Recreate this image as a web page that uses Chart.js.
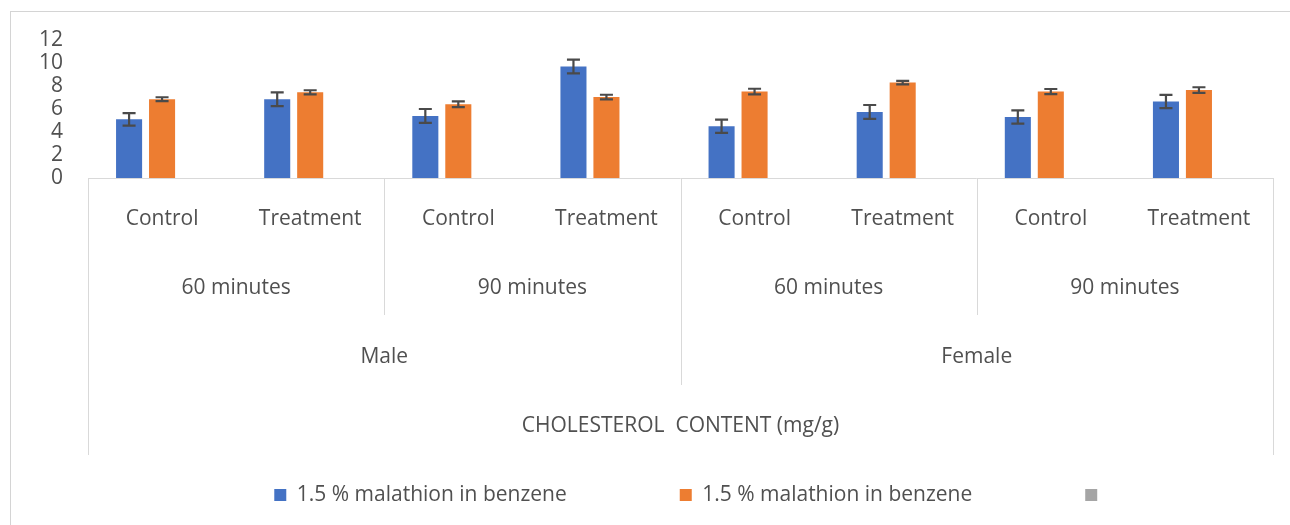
<!DOCTYPE html>
<html>
<head>
<meta charset="utf-8">
<title>Cholesterol content</title>
<script src="https://cdn.jsdelivr.net/npm/chart.js@4.4.1/dist/chart.umd.min.js"></script>
<style>
  html, body { margin: 0; padding: 0; background: #fff; }
  #wrap { position: relative; width: 1290px; height: 525px; overflow: hidden; }
  #frame { position: absolute; left: 10px; top: 11px; right: -2px; bottom: -2px;
           border-left: 1px solid #d4d4d4; border-top: 1px solid #d4d4d4; }
  #chart { position: absolute; left: 0; top: 0; }
</style>
</head>
<body>
<div id="wrap">
  <div id="frame"></div>
  <canvas id="chart" width="1290" height="525"></canvas>
</div>
<script>
  // ── data ─────────────────────────────────────────────
  const treatments = ["Control", "Treatment", "Control", "Treatment",
                      "Control", "Treatment", "Control", "Treatment"];
  const durations = ["60 minutes", "90 minutes", "60 minutes", "90 minutes"];
  const sexes = ["Male", "Female"];
  const axisTitle = "CHOLESTEROL  CONTENT (mg/g)";

  const seriesNames = ["1.5 % malathion in benzene", "1.5 % malathion in benzene", ""];

  const blueValues   = [5.1, 6.85, 5.4, 9.7, 4.5, 5.75, 5.3, 6.65];
  const blueErrors   = [0.55, 0.6, 0.6, 0.6, 0.58, 0.6, 0.58, 0.58];
  const orangeValues = [6.85, 7.45, 6.42, 7.04, 7.52, 8.3, 7.52, 7.65];
  const orangeErrors = [0.17, 0.18, 0.25, 0.2, 0.24, 0.15, 0.22, 0.24];
  const emptyValues  = [null, null, null, null, null, null, null, null];

  const yTicks = [0, 2, 4, 6, 8, 10, 12];

  const TEXT = "#505050";
  const LINE = "#d9d9d9";
  Chart.defaults.font.family = "'Open Sans', sans-serif";
  Chart.defaults.font.size = 21;
  Chart.defaults.color = TEXT;

  // ── error bars (no built-in in Chart.js) ─────────────
  const errorBars = {
    id: "errorBars",
    afterDatasetsDraw(chart) {
      const ctx = chart.ctx;
      const y = chart.scales.y;
      chart.data.datasets.forEach(function (ds, di) {
        if (!ds.errors) return;
        chart.getDatasetMeta(di).data.forEach(function (bar, i) {
          const v = ds.data[i];
          if (v == null) return;
          const top = y.getPixelForValue(v + ds.errors[i]);
          const bot = y.getPixelForValue(v - ds.errors[i]);
          ctx.save();
          ctx.strokeStyle = "#4a4a4a";
          ctx.lineWidth = 2.2;
          ctx.beginPath();
          ctx.moveTo(bar.x, top); ctx.lineTo(bar.x, bot);
          ctx.moveTo(bar.x - 6.5, top); ctx.lineTo(bar.x + 6.5, top);
          ctx.moveTo(bar.x - 6.5, bot); ctx.lineTo(bar.x + 6.5, bot);
          ctx.stroke();
          ctx.restore();
        });
      });
    }
  };

  // ── multi-level category axis (Excel style) ──────────
  const categoryTable = {
    id: "categoryTable",
    afterDraw(chart) {
      const ctx = chart.ctx;
      const x = chart.scales.x;
      const base = chart.chartArea.bottom;
      const n = treatments.length;
      const step = (x.right - x.left) / n;
      const edge = function (i) { return x.getPixelForValue(0) - step / 2 + i * step; };

      ctx.save();
      ctx.strokeStyle = LINE;
      ctx.lineWidth = 1;
      ctx.beginPath();
      ctx.moveTo(x.left, base + 0.5); ctx.lineTo(x.right, base + 0.5);
      // outer box sides
      [0, n].forEach(function (i) {
        const px = Math.round(edge(i)) + 0.5;
        ctx.moveTo(px, base); ctx.lineTo(px, base + 277);
      });
      // sex separator
      for (let s = 1; s < sexes.length; s++) {
        const px = Math.round(edge(s * n / sexes.length)) + 0.5;
        ctx.moveTo(px, base); ctx.lineTo(px, base + 207);
      }
      // duration separators
      for (let d = 1; d < durations.length; d++) {
        if (d % (durations.length / sexes.length) === 0) continue;
        const px = Math.round(edge(d * n / durations.length)) + 0.5;
        ctx.moveTo(px, base); ctx.lineTo(px, base + 137);
      }
      ctx.stroke();

      ctx.fillStyle = TEXT;
      ctx.font = "21px 'Open Sans', sans-serif";
      ctx.textAlign = "center";
      ctx.textBaseline = "middle";
      treatments.forEach(function (t, i) {
        ctx.fillText(t, x.getPixelForValue(i), base + 41);
      });
      const perDur = n / durations.length;
      durations.forEach(function (d, i) {
        ctx.fillText(d, (edge(i * perDur) + edge((i + 1) * perDur)) / 2, base + 110);
      });
      const perSex = n / sexes.length;
      sexes.forEach(function (s, i) {
        ctx.fillText(s, (edge(i * perSex) + edge((i + 1) * perSex)) / 2, base + 179);
      });
      ctx.fillText(axisTitle, (x.left + x.right) / 2, base + 248);
      ctx.restore();
    }
  };

  // legend row sits a bit right of centre in the original (empty 3rd entry)
  const legendShift = {
    id: "legendShift",
    afterLayout(chart) {
      if (!chart.legend) return;
      chart.legend.left += 28;
      chart.legend.right += 28;
    }
  };

  new Chart(document.getElementById("chart"), {
    type: "bar",
    data: {
      labels: treatments,
      datasets: [
        { label: seriesNames[0], data: blueValues, errors: blueErrors,
          backgroundColor: "#4472c4", borderWidth: 0 },
        { label: seriesNames[1], data: orangeValues, errors: orangeErrors,
          backgroundColor: "#ed7d31", borderWidth: 0 },
        { label: seriesNames[2], data: emptyValues,
          backgroundColor: "#a5a5a5", borderWidth: 0 }
      ]
    },
    options: {
      responsive: false,
      animation: false,
      devicePixelRatio: 1,
      categoryPercentage: 0.668,
      barPercentage: 0.79,
      layout: { padding: { left: 36, right: 0, top: 40, bottom: 9.5 } },
      plugins: {
        tooltip: { enabled: false },
        legend: {
          position: "bottom",
          labels: { boxWidth: 12, boxHeight: 12, padding: 113, color: TEXT,
                    font: { size: 21 } }
        }
      },
      scales: {
        x: {
          grid: { display: false },
          border: { display: false },
          ticks: { display: false },
          afterFit: function (s) { s.height = 193.5; }
        },
        y: {
          min: yTicks[0],
          max: yTicks[yTicks.length - 1],
          grid: { display: false, drawTicks: false },
          border: { display: false },
          ticks: { stepSize: yTicks[1] - yTicks[0], padding: 25, color: TEXT,
                   autoSkip: false },
          afterFit: function (s) { s.width = 52; }
        },
        edge: {
          type: "linear",
          position: "right",
          grid: { display: false, drawTicks: false },
          border: { display: false },
          ticks: { display: false },
          afterFit: function (s) { s.width = 17; }
        }
      }
    },
    plugins: [errorBars, categoryTable, legendShift]
  });
</script>
</body>
</html>
